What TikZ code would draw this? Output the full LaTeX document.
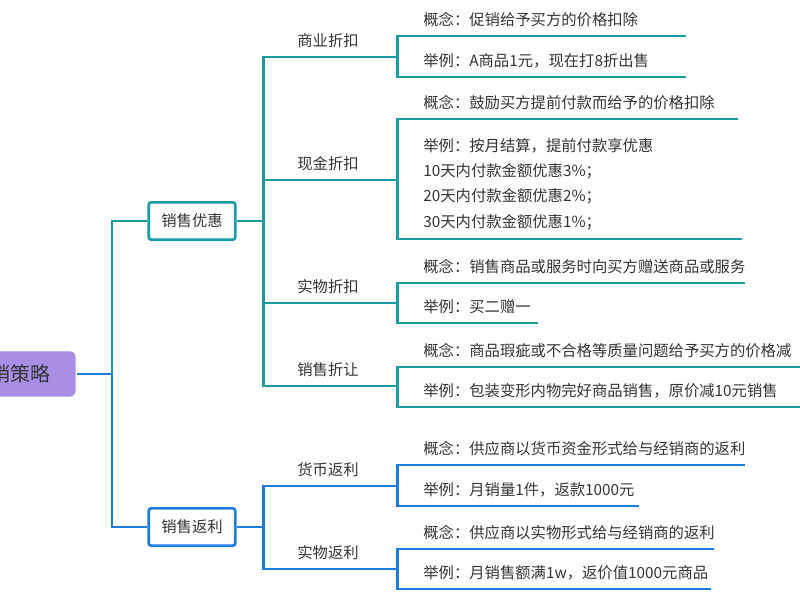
\documentclass[tikz,border=0pt]{standalone}
\usepackage{fontspec}
\setmainfont{Noto Sans CJK SC}
\usetikzlibrary{positioning}
\definecolor{teal1}{HTML}{1A9BA8}
\definecolor{blue1}{HTML}{1C7CE0}
\definecolor{rootfill}{HTML}{A98EE6}
\definecolor{ink}{HTML}{333333}
\tikzset{every path/.style={line width=2pt}, every node/.style={text=ink, font=\fontsize{11.5}{19}\selectfont},
  box/.style={draw, fill=white, rounded corners=2pt, minimum width=65pt, minimum height=28pt, line width=2pt},
  branch/.style={anchor=south west, inner xsep=0pt, inner ysep=6pt, text width=74pt, align=left},
  leaf/.style={anchor=south west, inner xsep=0pt, inner ysep=6pt, align=left}}

\begin{document}
\begin{tikzpicture}[x=0.75pt,y=-0.75pt]
  \useasboundingbox (0,0) rectangle (800,600);
  \node[fill=rootfill, rounded corners=4pt, minimum height=34pt, minimum width=80pt, anchor=east, font=\fontsize{15}{18}\selectfont] (root) at (77,374) {\hfill 销策略\hspace*{2pt}};
  \node[box, draw=teal1] (yh) at (192,221) {销售优惠};
  \node[box, draw=blue1] (fl) at (192,527) {销售返利};
  \draw[teal1] (root.east) -- ++(35,0) |- (yh.west);
  \draw[blue1] (root.east) -- ++(35,0) |- (fl.west);
  % upper branches
  \node[branch] (syzk) at (296,57) {商业折扣};
  \node[branch] (xjzk) at (296,180) {现金折扣};
  \node[branch] (swzk) at (296,303) {实物折扣};
  \node[branch] (xszr) at (296,386) {销售折让};
  \foreach \b in {syzk,xjzk,swzk,xszr}
    \draw[teal1] (yh.east) -- ++(27,0) |- (\b.south west) -- (\b.south east);
  \node[leaf, text width=196pt] (gn1) at (422,36) {概念：促销给予买方的价格扣除};
  \node[leaf, text width=196pt] (ex1) at (422,77) {举例：A商品1元，现在打8折出售};
  \node[leaf, text width=235pt] (gn2) at (422,119) {概念：鼓励买方提前付款而给予的价格扣除};
  \node[leaf, text width=238pt] (ex2) at (422,239) {举例：按月结算，提前付款享优惠\\10天内付款金额优惠3\%；\\20天内付款金额优惠2\%；\\30天内付款金额优惠1\%；};
  \node[leaf, text width=240pt] (gn3) at (422,283) {概念：销售商品或服务时向买方赠送商品或服务};
  \node[leaf, text width=85pt] (ex3) at (422,323) {举例：买二赠一};
  \node[leaf, text width=284pt] (gn4) at (422,367) {概念：商品瑕疵或不合格等质量问题给予买方的价格减};
  \node[leaf, text width=284pt] (ex4) at (422,407) {举例：包装变形内物完好商品销售，原价减10元销售};
  \draw[teal1] (syzk.south east) |- (gn1.south west) -- (gn1.south east);
  \draw[teal1] (syzk.south east) |- (ex1.south west) -- (ex1.south east);
  \draw[teal1] (xjzk.south east) |- (gn2.south west) -- (gn2.south east);
  \draw[teal1] (xjzk.south east) |- (ex2.south west) -- (ex2.south east);
  \draw[teal1] (swzk.south east) |- (gn3.south west) -- (gn3.south east);
  \draw[teal1] (swzk.south east) |- (ex3.south west) -- (ex3.south east);
  \draw[teal1] (xszr.south east) |- (gn4.south west) -- (gn4.south east);
  \draw[teal1] (xszr.south east) |- (ex4.south west) -- (ex4.south east);
  % lower branches
  \node[branch] (hbfl) at (296,486) {货币返利};
  \node[branch] (swfl) at (296,569) {实物返利};
  \foreach \b in {hbfl,swfl}
    \draw[blue1] (fl.east) -- ++(27,0) |- (\b.south west) -- (\b.south east);
  \node[leaf, text width=240pt] (gn5) at (422,465) {概念：供应商以货币资金形式给与经销商的返利};
  \node[leaf, text width=161pt] (ex5) at (422,506) {举例：月销量1件，返款1000元};
  \node[leaf, text width=217pt] (gn6) at (422,549) {概念：供应商以实物形式给与经销商的返利};
  \node[leaf, text width=215pt] (ex6) at (422,589) {举例：月销售额满1w，返价值1000元商品};
  \draw[blue1] (hbfl.south east) |- (gn5.south west) -- (gn5.south east);
  \draw[blue1] (hbfl.south east) |- (ex5.south west) -- (ex5.south east);
  \draw[blue1] (swfl.south east) |- (gn6.south west) -- (gn6.south east);
  \draw[blue1] (swfl.south east) |- (ex6.south west) -- (ex6.south east);
\end{tikzpicture}
\end{document}
